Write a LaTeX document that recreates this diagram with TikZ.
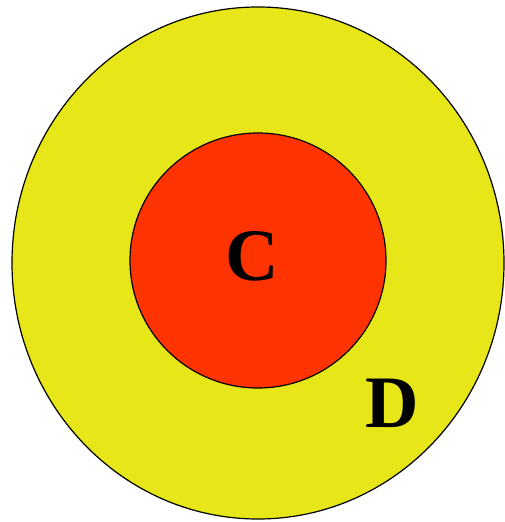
\documentclass[tikz,border=0pt]{standalone}
\usepackage{fontspec}
\setmainfont{Liberation Serif}
\definecolor{outery}{HTML}{E6E619}
\definecolor{innerr}{HTML}{FF3300}
\tikzset{
  region/.style={draw=black, line width=1.2pt},
  lbl/.style={font=\fontsize{74}{74}\selectfont\bfseries, inner sep=0pt, anchor=base}
}
\begin{document}
\begin{tikzpicture}[x=1pt,y=1pt]
\useasboundingbox (0,0) rectangle (504,522);
\draw[region, fill=outery] (258,259) ellipse [x radius=246, y radius=256];
\draw[region, fill=innerr] (258,261.5) ellipse [x radius=128, y radius=127.5];
\node[lbl] (c) at (252,241) {C};
\node[lbl] (d) at (392,94) {D};
\end{tikzpicture}
\end{document}
